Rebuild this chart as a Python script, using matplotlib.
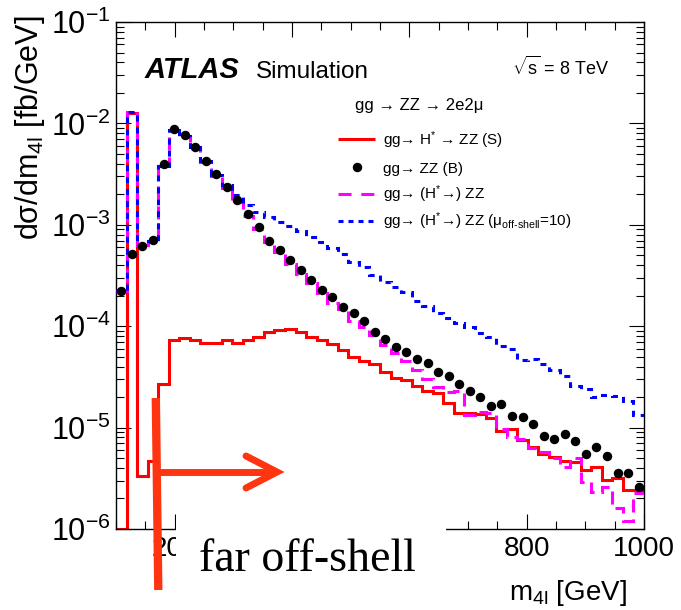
import numpy as np
import matplotlib
matplotlib.use("Agg")
import matplotlib.pyplot as plt
from matplotlib.lines import Line2D
from matplotlib.patches import Rectangle
from matplotlib.ticker import MultipleLocator, LogLocator, NullFormatter, FixedLocator

# ---------------- data ----------------
bin_low, bin_high, bin_width = 100, 1000, 18
edges = np.arange(bin_low, bin_high + bin_width, bin_width)

sig_S = [1e-7, 1.26e-2, 3.3e-6, 4.7e-6, 2.7e-5, 7.3e-5, 7.7e-5, 7.3e-5, 6.9e-5, 6.9e-5,
         7.3e-5, 6.9e-5, 7.3e-5, 7.9e-5, 8.8e-5, 9.2e-5, 9.4e-5, 8.8e-5, 7.9e-5, 7.3e-5,
         6.7e-5, 5.8e-5, 5.0e-5, 4.5e-5, 4.2e-5, 3.56e-5, 3.06e-5, 2.95e-5, 2.55e-5, 2.28e-5,
         2.18e-5, 1.74e-5, 1.40e-5, 1.38e-5, 1.35e-5, 1.25e-5, 9.2e-6, 9.6e-6, 7.5e-6, 6.4e-6,
         5.5e-6, 5.1e-6, 4.7e-6, 4.6e-6, 3.8e-6, 4.1e-6, 3.05e-6, 3.2e-6, 2.45e-6, 2.45e-6]

bkg_B = [2.2e-4, 5.2e-4, 6.2e-4, 7.1e-4, 4.0e-3, 8.9e-3, 7.7e-3, 5.8e-3, 4.3e-3, 3.2e-3,
         2.35e-3, 1.76e-3, 1.27e-3, 9.6e-4, 7.0e-4, 5.7e-4, 4.5e-4, 3.6e-4, 2.86e-4, 2.28e-4,
         1.95e-4, 1.56e-4, 1.34e-4, 1.13e-4, 8.7e-5, 7.5e-5, 6.3e-5, 5.6e-5, 4.8e-5, 4.3e-5,
         3.5e-5, 3.2e-5, 2.7e-5, 2.27e-5, 2.0e-5, 1.62e-5, 1.71e-5, 1.3e-5, 1.26e-5, 1.08e-5,
         8.3e-6, 7.7e-6, 8.6e-6, 7.4e-6, 5.5e-6, 6.4e-6, 5.25e-6, 3.6e-6, 3.6e-6, 2.6e-6]

sbi = [2.2e-4, 1.30e-2, 6.3e-4, 7.0e-4, 3.8e-3, 8.6e-3, 7.4e-3, 5.7e-3, 4.2e-3, 3.0e-3,
       2.3e-3, 1.66e-3, 1.22e-3, 9.0e-4, 6.7e-4, 5.4e-4, 4.1e-4, 3.3e-4, 2.65e-4, 2.14e-4,
       1.7e-4, 1.48e-4, 1.12e-4, 9.9e-5, 8.2e-5, 6.5e-5, 5.5e-5, 4.5e-5, 3.7e-5, 3.0e-5,
       2.53e-5, 2.26e-5, 2.3e-5, 1.33e-5, 1.44e-5, 1.40e-5, 9.6e-6, 8.0e-6, 7.7e-6, 6.3e-6,
       5.8e-6, 5.0e-6, 4.1e-6, 5.0e-6, 2.9e-6, 2.3e-6, 2.6e-6, 1.6e-6, 1.2e-6, 2.25e-6]

sbi_mu10 = [2.2e-4, 1.30e-2, 6.3e-4, 7.0e-4, 3.8e-3, 8.6e-3, 7.5e-3, 5.8e-3, 4.3e-3, 3.1e-3,
            2.47e-3, 1.97e-3, 1.57e-3, 1.35e-3, 1.19e-3, 1.07e-3, 9.7e-4, 8.7e-4, 7.5e-4, 6.8e-4,
            5.9e-4, 5.1e-4, 4.3e-4, 3.8e-4, 3.2e-4, 2.75e-4, 2.45e-4, 2.15e-4, 1.78e-4, 1.57e-4,
            1.36e-4, 1.2e-4, 1.07e-4, 9.8e-5, 8.5e-5, 7.8e-5, 6.4e-5, 6.0e-5, 4.6e-5, 4.8e-5,
            4.2e-5, 3.7e-5, 3.2e-5, 2.6e-5, 2.4e-5, 2.0e-5, 2.1e-5, 2.05e-5, 1.83e-5, 1.33e-5]

legend_labels = ["gg\u2192 H$^{*}$ \u2192 ZZ (S)",
                 "gg\u2192 ZZ (B)",
                 "gg\u2192 (H$^{*}$\u2192) ZZ",
                 "gg\u2192 (H$^{*}$\u2192) ZZ (\u03bc$_{\\text{off-shell}}$=10)"]
x_ticks = [200, 400, 600, 800, 1000]
# 400 and 600 are hidden under the slide's white text box in the reference
x_tick_labels = ['200', '', '', '800', '1000']

# ---------------- style ----------------
plt.rcParams['font.family'] = ['Liberation Sans', 'DejaVu Sans']
plt.rcParams['mathtext.fontset'] = 'custom'
plt.rcParams['mathtext.rm'] = 'Liberation Sans'
plt.rcParams['mathtext.it'] = 'Liberation Sans:italic'
plt.rcParams['mathtext.bf'] = 'Liberation Sans:bold'
plt.rcParams['lines.scale_dashes'] = False

W, H = 681, 610
fig = plt.figure(figsize=(W / 100, H / 100), dpi=100)


def fx(x):
    return x / W


def fy(y):
    return 1 - y / H


ax = fig.add_axes([fx(116), fy(529), 528 / W, 507 / H])
ax.set_yscale('log')
ax.set_xlim(bin_low, bin_high)
ax.set_ylim(1e-6, 1e-1)

RED, MAG, BLUE = '#ff0000', '#ff00ff', '#0000ff'
centers = 0.5 * (edges[:-1] + edges[1:])
floor = 1e-6
ax.stairs(np.clip(sig_S, floor, None), edges, baseline=None, color=RED, lw=2.2, zorder=2)
ax.stairs(sbi, edges, baseline=None, color=MAG, lw=2.2, linestyle=(0, (9.4, 5.0)), zorder=3)
ax.stairs(sbi_mu10, edges, baseline=None, color=BLUE, lw=2.2, linestyle=(0, (4.3, 4.3)), zorder=4)
ax.plot(centers, bkg_B, 'o', color='black', ms=5.8, zorder=5)

ax.xaxis.set_major_locator(FixedLocator(x_ticks))
ax.set_xticklabels(x_tick_labels)
ax.xaxis.set_minor_locator(MultipleLocator(50))
ax.yaxis.set_major_locator(LogLocator(base=10, numticks=10))
ax.yaxis.set_minor_locator(LogLocator(base=10, subs=np.arange(2, 10), numticks=50))
ax.yaxis.set_minor_formatter(NullFormatter())
ax.tick_params(which='both', direction='in', top=True, right=True, width=0.8)
ax.tick_params(which='major', length=11)
ax.tick_params(which='minor', length=5.5)
ax.tick_params(axis='x', labelsize=20, pad=5)
ax.tick_params(axis='y', labelsize=22, pad=4)
for sp in ax.spines.values():
    sp.set_linewidth(1.0)

# axis titles
fig.text(fx(30), fy(15), 'd\u03c3/dm$_{\\mathrm{4l}}$ [fb/GeV]', rotation=90,
         fontsize=22, ha='center', va='top')
fig.text(fx(627), fy(600), 'm$_{\\mathrm{4l}}$ [GeV]', fontsize=20, ha='right', va='baseline')

# labels inside
fig.text(fx(145), fy(78), 'ATLAS', fontsize=21, weight='bold', style='italic', va='baseline')
fig.text(fx(256), fy(78), 'Simulation', fontsize=17.5, va='baseline')
fig.text(fx(512), fy(75), r'$\sqrt{\mathrm{s}}$ = 8 TeV', fontsize=13, va='baseline')
fig.text(fx(355), fy(110), 'gg \u2192 ZZ \u2192 2e2\u03bc', fontsize=12, va='baseline')

# legend (manual, ROOT-like)
leg_line_y = [139.3, 166.7, 194, 221]
leg_text_y = [145, 173.3, 199.3, 226]
styles = [dict(color=RED, lw=2.2),
          dict(color='black', marker='o', ms=5.8, lw=0),
          dict(color=MAG, lw=2.2, linestyle=(0, (9.4, 7.0))),
          dict(color=BLUE, lw=2.2, linestyle=(0, (3.6, 3.6)))]
for lab, ly, ty, st in zip(legend_labels, leg_line_y, leg_text_y, styles):
    if st.get('marker'):
        fig.add_artist(Line2D([fx(356.7)], [fy(ly)], transform=fig.transFigure, **st))
    else:
        fig.add_artist(Line2D([fx(338), fx(375)], [fy(ly), fy(ly)], transform=fig.transFigure,
                              solid_capstyle='butt', dash_capstyle='butt', **st))
    fig.text(fx(382.7), fy(ty), lab, fontsize=11, va='baseline')

# slide overlay: white box with "far off-shell" and red arrow
fig.patches.append(Rectangle((fx(176), fy(600)), (446 - 176) / W, (600 - 512) / H,
                             transform=fig.transFigure, facecolor='white', edgecolor='none',
                             zorder=10))
fig.text(fx(199), fy(571), 'far off-shell', family=['Liberation Serif', 'DejaVu Serif'],
         fontsize=33, va='baseline', zorder=11)
ARROW = '#ff3512'
fig.add_artist(Line2D([fx(155.8), fx(158.3)], [fy(398), fy(590)], transform=fig.transFigure,
                      color=ARROW, lw=6, solid_capstyle='butt', zorder=12))
fig.add_artist(Line2D([fx(158), fx(275)], [fy(472), fy(472)], transform=fig.transFigure,
                      color=ARROW, lw=5, solid_capstyle='butt', zorder=12))
fig.add_artist(Line2D([fx(246), fx(277), fx(246)], [fy(456), fy(472), fy(488)],
                      transform=fig.transFigure, color=ARROW, lw=5,
                      solid_capstyle='round', solid_joinstyle='miter', zorder=12))

fig.savefig('out.png', dpi=100)
